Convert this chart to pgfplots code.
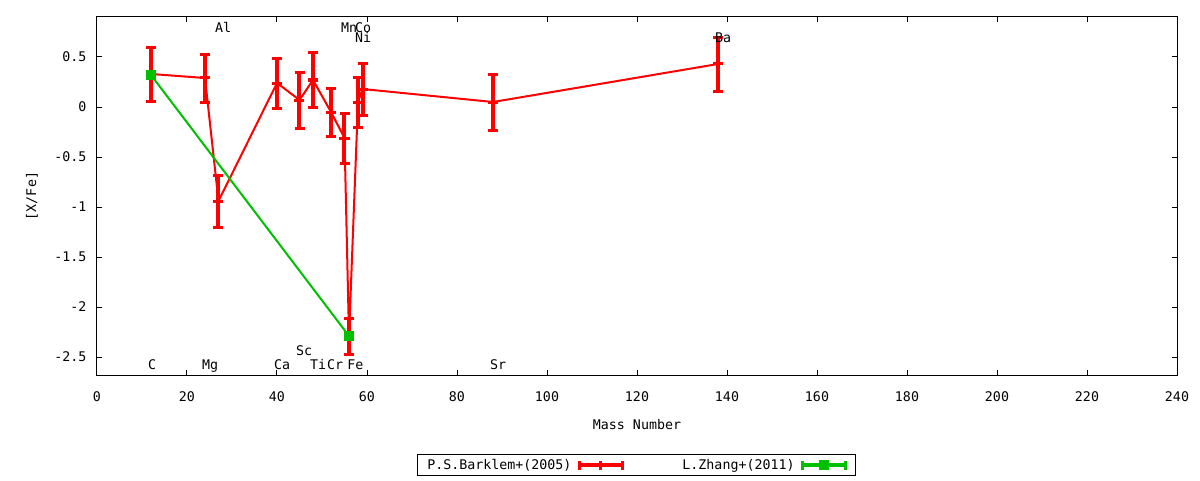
\documentclass[border=0pt]{standalone}
\usepackage{fontspec}
\setmainfont{DejaVu Sans Mono}
\usepackage{pgfplots}
\pgfplotsset{compat=1.18}
\definecolor{gpred}{RGB}{255,0,0}
\definecolor{gpgreen}{RGB}{0,192,0}

\begin{document}
\fontsize{13.3pt}{15pt}\selectfont
\begin{tikzpicture}
\useasboundingbox (-97pt,-105pt) rectangle (1103pt,375pt);
\begin{axis}[
    at={(0pt,0pt)}, anchor=south west,
    scale only axis,
    width=1080pt, height=358pt,
    xmin=0, xmax=240,
    ymin=-2.68, ymax=0.9,
    xtick={0,20,40,60,80,100,120,140,160,180,200,220,240},
    xticklabels={0,20,40,60,80,100,120,140,160,180,200,220,240},
    ytick={-2.5,-2,-1.5,-1,-0.5,0,0.5},
    yticklabels={-2.5,-2,-1.5,-1,-0.5,0,0.5},
    tick align=inside,
    major tick length=5pt,
    every tick/.style={black, line width=1pt},
    axis line style={line width=1pt},
    xticklabel style={yshift=-12pt},
    yticklabel style={xshift=-6pt},
    xlabel={Mass Number},
    ylabel={[X/Fe]},
    every axis x label/.style={at={(axis description cs:0.5,0)}, yshift=-50pt, anchor=center},
    every axis y label/.style={at={(axis description cs:0,0.5)}, xshift=-65pt, rotate=90, anchor=center},
    legend plot pos=right,
    legend columns=2,
    legend style={at={(axis description cs:0.4995,-0.2514)}, anchor=center,
        draw=black, line width=1pt, inner xsep=8pt, inner ysep=2.5pt,
        /tikz/column 1/.style={column sep=4pt},
        /tikz/column 2/.style={column sep=56pt},
        /tikz/column 3/.style={column sep=4pt}},
]

% P.S.Barklem+(2005)
\addplot[
    color=gpred, line width=2pt,
    mark=-, mark size=5pt, mark options={line width=3pt},
    legend image code/.code={
        \draw[gpred, line width=4pt] (0pt,0pt) -- (43pt,0pt);
        \draw[gpred, line width=3pt] (0pt,-4.5pt) -- (0pt,4.5pt)
            (43pt,-4.5pt) -- (43pt,4.5pt) (21pt,-4.5pt) -- (21pt,4.5pt);
    },
    error bars/.cd, y dir=both, y explicit,
    error bar style={line width=4pt},
    error mark=|, error mark options={mark size=5pt, line width=3pt},
]
table[x=x, y=y, y error=e] {
x   y      e
12  0.33   0.27
24  0.29   0.24
27  -0.94  0.26
40  0.24   0.25
45  0.07   0.28
48  0.27   0.27
52  -0.05  0.24
55  -0.31  0.25
56  -2.29  0.18
58  0.05   0.25
59  0.18   0.26
88  0.05   0.28
138 0.43   0.27
};
\addlegendentry{P.S.Barklem+(2005)}

% L.Zhang+(2011)
\addplot[
    color=gpgreen, line width=2pt,
    mark=square*, mark size=4.5pt, mark options={line width=0.5pt},
    legend image code/.code={
        \draw[gpgreen, line width=4pt] (0pt,0pt) -- (43pt,0pt);
        \draw[gpgreen, line width=3pt] (0pt,-4.5pt) -- (0pt,4.5pt)
            (43pt,-4.5pt) -- (43pt,4.5pt);
        \fill[gpgreen] (17pt,-4pt) rectangle (25pt,4pt);
    },
    error bars/.cd, y dir=both, y explicit,
    error bar style={line width=4pt},
]
table[x=x, y=y, y error=e] {
x   y      e
12  0.32   0
56  -2.29  0
};
\addlegendentry{L.Zhang+(2011)}

% element labels
\begin{scope}[every node/.style={anchor=base west, inner sep=0pt, black}]
\node at (axis cs:11.3,-2.62) {C};
\node at (axis cs:23.3,-2.62) {Mg};
\node at (axis cs:26.2,0.74) {Al};
\node at (axis cs:39.3,-2.62) {Ca};
\node at (axis cs:44.2,-2.48) {Sc};
\node at (axis cs:47.3,-2.62) {Ti};
\node at (axis cs:51.1,-2.62) {Cr};
\node at (axis cs:54.2,0.74) {Mn};
\node at (axis cs:55.6,-2.62) {Fe};
\node at (axis cs:57.3,0.64) {Ni};
\node at (axis cs:57.3,0.74) {Co};
\node at (axis cs:87.3,-2.62) {Sr};
\node at (axis cs:137.3,0.64) {Ba};
\end{scope}
\end{axis}
\end{tikzpicture}
\end{document}
